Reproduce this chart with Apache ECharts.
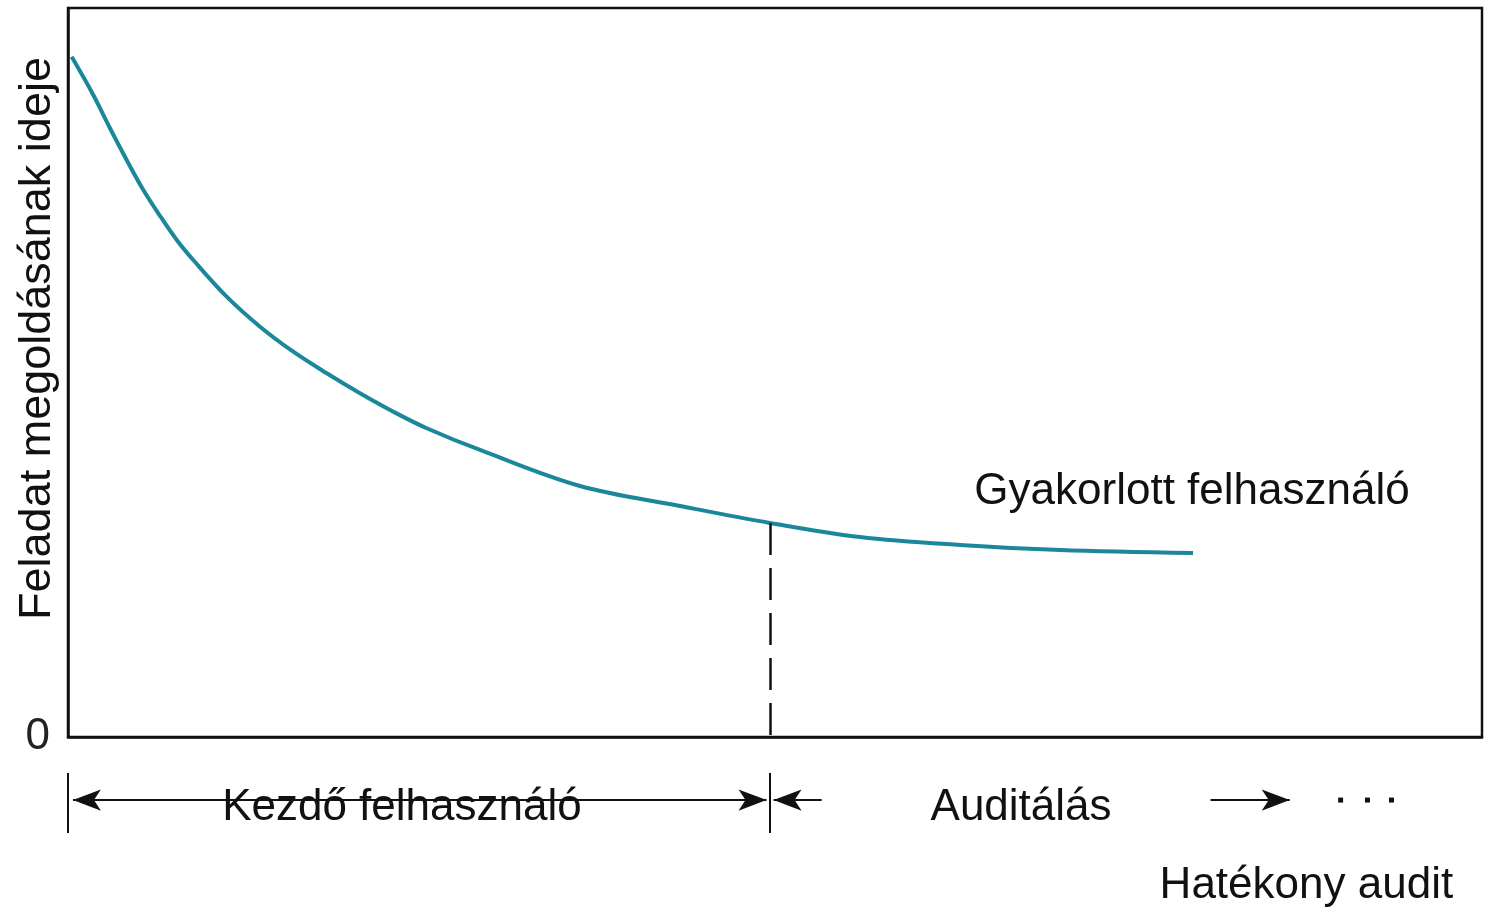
<!DOCTYPE html>
<html>
<head>
<meta charset="utf-8">
<script src="https://cdn.jsdelivr.net/npm/echarts@6/dist/echarts.min.js"></script>
<style>
html,body{margin:0;padding:0;background:#fff;}
#chart{width:1491px;height:907px;}
</style>
</head>
<body>
<div id="chart"></div>
<script>
// ---- data ----
const curveX = [0.26, 1.79, 2.97, 4.15, 5.33, 6.51, 7.69, 8.86, 11.22, 13.58, 15.93, 18.30, 20.65, 23.01, 25.37, 29.14, 36.21, 43.28, 49.65, 56.01, 63.08, 70.16, 79.56];
const curveY = [93.3, 88.07, 83.50, 79.15, 75.03, 71.47, 68.18, 65.43, 60.40, 56.28, 52.85, 49.89, 47.15, 44.62, 42.35, 39.37, 34.43, 31.69, 29.36, 27.43, 26.34, 25.65, 25.24];
const yTickLabels = ['0'];
const yTitle = 'Feladat megoldásának ideje';
const curveLabel = 'Gyakorlott felhasználó';
const curveLabelAt = [64.1, 33.6];
const transitionX = 49.65;         // novice -> auditing boundary
const transitionY = 29.36;         // curve value at the boundary
const phaseStartX = 0.35;
const phaseTickX = 0;
const auditArrowFrom = 53.3;       // small arrow towards the boundary
const effectiveArrow = [80.8, 86.4];
const dotsX = [90.0, 91.9, 93.6];
const phaseLabels = ['Kezdő felhasználó', 'Auditálás', 'Hatékony audit'];
const phaseLabelX = [10.9, 61.0, 77.2];
// bottom annotation band rows (0 = x axis, 100 = bottom of page)
const rowArrow = 37.1;
const rowTick = [21.2, 56.5];
const phaseLabelRow = [41.5, 41.5, 87.6];

const FONT = 'Liberation Sans';
const INK = '#111';
const TEAL = '#1b879a';

const chart = echarts.init(document.getElementById('chart'), null, {renderer: 'canvas'});

const arrowStyle = {color: INK, width: 2, type: 'solid'};
const textLabel = {show: true, position: 'right', distance: 0, formatter: p => p.name,
                   fontFamily: FONT, fontSize: 44, color: INK};

const option = {
  animation: false,
  backgroundColor: '#fff',
  grid: [
    {left: 68, right: 9, top: 8, bottom: 170, containLabel: false, outerBoundsMode: 'none',
     show: true, borderColor: INK, borderWidth: 2.5, backgroundColor: 'transparent'},
    {left: 68, right: 9, top: 737, bottom: 0, containLabel: false, outerBoundsMode: 'none', show: false}
  ],
  xAxis: [
    {type: 'value', gridIndex: 0, min: 0, max: 100,
     axisLine: {show: true, onZero: false, lineStyle: {color: INK, width: 2.5}},
     axisTick: {show: false}, axisLabel: {show: false}, splitLine: {show: false}},
    {type: 'value', gridIndex: 1, min: 0, max: 100, show: false}
  ],
  yAxis: [
    {type: 'value', gridIndex: 0, min: 0, max: 100, interval: 100,
     name: yTitle, nameLocation: 'middle', nameRotate: 90, nameGap: 8, nameMoveOverlap: false,
     nameTextStyle: {fontFamily: FONT, fontSize: 45, color: INK, padding: [0, 0, 0, 68]},
     axisLine: {show: true, lineStyle: {color: INK, width: 2.5}},
     axisTick: {show: false}, splitLine: {show: false},
     axisLabel: {show: true, margin: 18, fontFamily: FONT, fontSize: 44, color: '#222',
       formatter: v => (v === 0 ? yTickLabels[0] : '')}},
    {type: 'value', gridIndex: 1, min: 0, max: 100, inverse: true, show: false}
  ],
  series: [
    {
      type: 'line', xAxisIndex: 0, yAxisIndex: 0,
      data: curveX.map((x, i) => [x, curveY[i]]),
      smooth: 0.35, showSymbol: false, symbol: 'none',
      lineStyle: {color: TEAL, width: 4},
      silent: true,
      markLine: {
        silent: true, symbol: 'none', label: {show: false},
        lineStyle: {color: INK, width: 2.5, type: [32, 13]},
        data: [[{coord: [transitionX, transitionY]}, {coord: [transitionX, 0]}]]
      }
    },
    {
      type: 'scatter', xAxisIndex: 0, yAxisIndex: 0, symbolSize: 0, silent: true,
      itemStyle: {opacity: 1},
      data: [{value: curveLabelAt, name: curveLabel}],
      label: textLabel
    },
    {
      type: 'line', xAxisIndex: 1, yAxisIndex: 1, data: [], silent: true,
      markLine: {
        silent: true, label: {show: false}, symbolSize: [16, 28],
        lineStyle: arrowStyle,
        data: [
          [{coord: [phaseStartX, rowArrow], symbol: 'arrow'}, {coord: [transitionX - 0.25, rowArrow], symbol: 'arrow'}],
          [{coord: [auditArrowFrom, rowArrow], symbol: 'none'}, {coord: [transitionX + 0.25, rowArrow], symbol: 'arrow'}],
          [{coord: [effectiveArrow[0], rowArrow], symbol: 'none'}, {coord: [effectiveArrow[1], rowArrow], symbol: 'arrow'}],
          [{coord: [phaseTickX, rowTick[0]], symbol: 'none'}, {coord: [phaseTickX, rowTick[1]], symbol: 'none'}],
          [{coord: [transitionX, rowTick[0]], symbol: 'none'}, {coord: [transitionX, rowTick[1]], symbol: 'none'}]
        ]
      }
    },
    {
      type: 'scatter', xAxisIndex: 1, yAxisIndex: 1, silent: true,
      symbol: 'rect', symbolSize: 5, itemStyle: {color: INK, opacity: 1},
      data: dotsX.map(x => [x, rowArrow])
    },
    {
      type: 'scatter', xAxisIndex: 1, yAxisIndex: 1, symbolSize: 0, silent: true,
      itemStyle: {opacity: 1},
      data: phaseLabels.map((t, i) => ({value: [phaseLabelX[i], phaseLabelRow[i]], name: t})),
      label: textLabel
    }
  ]
};
chart.setOption(option);
</script>
</body>
</html>
